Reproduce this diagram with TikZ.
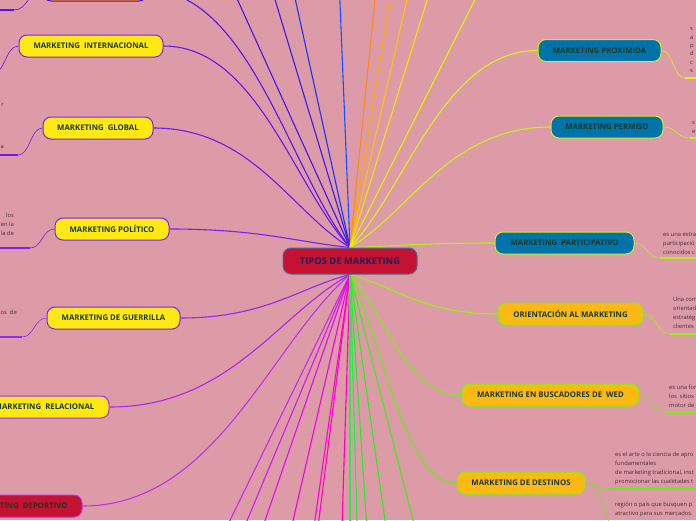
\documentclass[tikz,border=0pt]{standalone}
\usepackage{fontspec}
\setmainfont{Open Sans}
\usetikzlibrary{calc,positioning}
\definecolor{paperPink}{RGB}{221,155,167}
\definecolor{topicText}{RGB}{22,58,40}
\definecolor{noteText}{RGB}{70,45,50}
\definecolor{centreText}{RGB}{30,30,85}
\definecolor{centreFill}{RGB}{196,18,50}
\definecolor{centreEdge}{RGB}{70,110,150}
\definecolor{mapYellow}{RGB}{255,232,20}
\definecolor{mapBlue}{RGB}{0,115,170}
\definecolor{mapOrange}{RGB}{252,185,20}
\definecolor{mapAmber}{RGB}{255,140,0}
\definecolor{edgeViolet}{RGB}{125,35,235}
\definecolor{edgeLime}{RGB}{205,240,30}
\definecolor{edgeGreen}{RGB}{125,240,20}
% branch colours, left to right round the map
\definecolor{lnDeportivo}{RGB}{190,50,240}
\definecolor{lnRelacional}{RGB}{170,40,240}
\definecolor{lnGuerrilla}{RGB}{150,40,240}
\definecolor{lnPolitico}{RGB}{130,30,240}
\definecolor{lnGlobal}{RGB}{115,25,240}
\definecolor{lnInter}{RGB}{105,20,240}
\definecolor{lnUpper}{RGB}{90,20,235}
\definecolor{lnBlueA}{RGB}{70,20,235}
\definecolor{lnBlueB}{RGB}{50,30,235}
\definecolor{lnBlueC}{RGB}{30,50,245}
\definecolor{lnBlueD}{RGB}{20,80,255}
\definecolor{lnOrangeA}{RGB}{255,140,20}
\definecolor{lnOrangeB}{RGB}{255,170,0}
\definecolor{lnOrangeC}{RGB}{255,195,0}
\definecolor{lnYellowA}{RGB}{255,225,0}
\definecolor{lnYellowB}{RGB}{240,240,0}
\definecolor{lnProximida}{RGB}{225,240,20}
\definecolor{lnPermiso}{RGB}{205,240,20}
\definecolor{lnParticip}{RGB}{180,240,20}
\definecolor{lnOrient}{RGB}{150,240,20}
\definecolor{lnBuscador}{RGB}{120,240,20}
\definecolor{lnDestinos}{RGB}{100,240,20}
\definecolor{lnGreenA}{RGB}{60,240,20}
\definecolor{lnGreenB}{RGB}{40,240,30}
\definecolor{lnGreenC}{RGB}{30,240,45}
\definecolor{lnGreenD}{RGB}{30,240,60}
\definecolor{lnGreenE}{RGB}{40,235,80}
\definecolor{lnPinkA}{RGB}{255,0,180}
\definecolor{lnPinkB}{RGB}{255,0,200}
\definecolor{lnPinkC}{RGB}{255,0,215}
\definecolor{lnPinkD}{RGB}{240,0,230}
\definecolor{lnPinkE}{RGB}{225,10,240}
\definecolor{lnPinkF}{RGB}{210,25,240}
\definecolor{lnPinkG}{RGB}{200,40,240}
\pgfdeclarelayer{paper}
\pgfdeclarelayer{links}
\pgfsetlayers{paper,links,main}
\tikzset{
  topic/.style={rounded corners=8pt, line width=1pt, minimum height=22pt, inner sep=2pt,
                font=\fontsize{7.8}{9}\selectfont\bfseries, text=topicText},
  yellowtopic/.style={topic, draw=edgeViolet, fill=mapYellow},
  bluetopic/.style={topic, draw=edgeLime, fill=mapBlue},
  orangetopic/.style={topic, draw=edgeGreen, fill=mapOrange},
  redtopic/.style={topic, draw=lnDeportivo, fill=centreFill},
  branch/.style={line width=1.1pt},
  twig/.style={line width=0.6pt},
  underline/.style={line width=1.8pt},
  note/.style={font=\fontsize{5.8}{9}\selectfont, text=noteText, inner sep=0pt}
}
\newcommand{\branch}[3]{%
  \draw[branch,#1] (#2) .. controls ($(#2)!0.3!(#3)$) and ($(#3)!0.5!(#2|-#3)$) .. (#3);}
\newcommand{\farbranch}[3]{\draw[branch,#1] (#2) -- (#3);}
\newcommand{\twig}[3]{%
  \draw[twig,#1] (#2) .. controls ($(#2)!0.5!(#3|-#2)$) and ($(#3)!0.5!(#2|-#3)$) .. (#3);}
\begin{document}
\begin{tikzpicture}[x=1pt, y=-1pt]
\begin{pgfonlayer}{paper}
\fill[paperPink] (0,0) rectangle (696,520);
\end{pgfonlayer}
\useasboundingbox (0,0) rectangle (696,520);

% centre
\node[redtopic, draw=centreEdge, text=centreText, minimum width=134pt, minimum height=26pt,
      font=\fontsize{9.4}{10}\selectfont\bfseries] (ctr) at (350,261) {TIPOS DE MARKETING};

% left topics
\node[topic, draw=lnBlueA, fill=mapAmber, minimum width=104pt] (upper) at (95,-10) {};
\node[yellowtopic, minimum width=144pt] (inter) at (91,46) {MARKETING\ \ INTERNACIONAL};
\node[yellowtopic, minimum width=110pt] (global) at (98,128) {MARKETING\ \ GLOBAL};
\node[yellowtopic, minimum width=114pt] (politico) at (112,229) {MARKETING POLÍTICO};
\node[yellowtopic, minimum width=133pt] (guerrilla) at (113.5,318) {MARKETING DE GUERRILLA};
\node[yellowtopic, draw=lnRelacional, minimum width=129pt] (relacional) at (44.5,407) {MARKETING\ \ RELACIONAL};
\node[redtopic, minimum width=124pt] (deportivo) at (20,506) {MARKETING\ \ DEPORTIVO};

% right topics
\node[bluetopic, minimum width=123pt] (proximida) at (599.5,50.5) {MARKETING PROXIMIDA};
\node[bluetopic, minimum width=112pt] (permiso) at (607,127) {MARKETING PERMISO};
\node[bluetopic, minimum width=139pt] (particip) at (564.5,243) {MARKETING\ \ PARTICIPATIVO};
\node[orangetopic, minimum width=145pt] (orient) at (570.5,314) {ORIENTACIÓN AL MARKETING};
\node[orangetopic, minimum width=177pt] (buscador) at (550.5,395) {MARKETING EN BUSCADORES DE\ \ WED};
\node[orangetopic, minimum width=128pt] (destinos) at (521,483) {MARKETING DE DESTINOS};

% ends of branches running off the page
\coordinate (farA) at (209,-63);
\coordinate (farB) at (254,-70);
\coordinate (farC) at (280,-70);
\coordinate (farD) at (337,-70);
\coordinate (farE) at (382,-70);
\coordinate (farF) at (401,-70);
\coordinate (farG) at (423,-70);
\coordinate (farH) at (449,-70);
\coordinate (farI) at (510,-70);
\coordinate (lowA) at (196,590);
\coordinate (lowB) at (218,590);
\coordinate (lowC) at (241,590);
\coordinate (lowD) at (277,590);
\coordinate (lowE) at (305,590);
\coordinate (lowF) at (310,590);
\coordinate (lowG) at (340,590);
\coordinate (lowH) at (350,590);
\coordinate (lowI) at (359,590);
\coordinate (lowJ) at (371,590);
\coordinate (lowK) at (395,590);
\coordinate (lowL) at (431,590);

% underline ends of the notes
\coordinate (uUpper) at (14,10);
\coordinate (uInter) at (-8,74);
\coordinate (uGlobal) at (18,155);
\coordinate (uPolitico) at (30,248);
\coordinate (uGuerrilla) at (22,337);
\coordinate (uProximida) at (685,78);
\coordinate (uPermiso) at (690,138);
\coordinate (uParticip) at (660,258);
\coordinate (uOrient) at (670,334);
\coordinate (uBuscador) at (665,412);
\coordinate (uDestA) at (610,489);
\coordinate (uDestB) at (625,540);

\begin{pgfonlayer}{links}
\branch{lnUpper}{ctr.north}{upper.east}
\branch{lnInter}{ctr.north}{inter.east}
\branch{lnGlobal}{ctr.north}{global.east}
\branch{lnPolitico}{ctr.north}{politico.east}
\branch{lnGuerrilla}{ctr.south}{guerrilla.east}
\branch{lnRelacional}{ctr.south}{relacional.east}
\branch{lnDeportivo}{ctr.south}{deportivo.east}
\branch{lnProximida}{ctr.north}{proximida.west}
\branch{lnPermiso}{ctr.north}{permiso.west}
\branch{lnParticip}{ctr.north}{particip.west}
\branch{lnOrient}{ctr.south}{orient.west}
\branch{lnBuscador}{ctr.south}{buscador.west}
\branch{lnDestinos}{ctr.south}{destinos.west}
\farbranch{lnBlueA}{ctr.north}{farA}
\farbranch{lnBlueB}{ctr.north}{farB}
\farbranch{lnBlueC}{ctr.north}{farC}
\farbranch{lnBlueD}{ctr.north}{farD}
\farbranch{lnOrangeA}{ctr.north}{farE}
\farbranch{lnOrangeB}{ctr.north}{farF}
\farbranch{lnOrangeC}{ctr.north}{farG}
\farbranch{lnYellowA}{ctr.north}{farH}
\farbranch{lnYellowB}{ctr.north}{farI}
\farbranch{lnPinkG}{ctr.south}{lowA}
\farbranch{lnPinkF}{ctr.south}{lowB}
\farbranch{lnPinkE}{ctr.south}{lowC}
\farbranch{lnPinkD}{ctr.south}{lowD}
\farbranch{lnPinkC}{ctr.south}{lowE}
\farbranch{lnPinkB}{ctr.south}{lowF}
\farbranch{lnPinkA}{ctr.south}{lowG}
\farbranch{lnGreenE}{ctr.south}{lowH}
\farbranch{lnGreenD}{ctr.south}{lowI}
\farbranch{lnGreenC}{ctr.south}{lowJ}
\farbranch{lnGreenB}{ctr.south}{lowK}
\farbranch{lnGreenA}{ctr.south}{lowL}
% twigs to the notes
\twig{lnUpper}{upper.west}{uUpper}
\twig{lnInter}{inter.west}{uInter}
\twig{lnGlobal}{global.west}{uGlobal}
\twig{lnPolitico}{politico.west}{uPolitico}
\twig{lnGuerrilla}{guerrilla.west}{uGuerrilla}
\twig{lnProximida}{proximida.east}{uProximida}
\twig{lnPermiso}{permiso.east}{uPermiso}
\twig{lnParticip}{particip.east}{uParticip}
\twig{lnOrient}{orient.east}{uOrient}
\twig{lnBuscador}{buscador.east}{uBuscador}
\twig{lnDestinos}{destinos.east}{uDestA}
\twig{lnDestinos}{destinos.east}{uDestB}
\draw[underline, lnUpper] (uUpper) -- ++(-40,0);
\draw[underline, lnInter] (uInter) -- ++(-40,0);
\draw[underline, lnGlobal] (uGlobal) -- ++(-40,0);
\draw[underline, lnPolitico] (uPolitico) -- ++(-40,0);
\draw[underline, lnGuerrilla] (uGuerrilla) -- ++(-40,0);
\draw[underline, lnProximida] (uProximida) -- ++(40,0);
\draw[underline, lnPermiso] (uPermiso) -- ++(40,0);
\draw[underline, lnParticip] (uParticip) -- ++(60,0);
\draw[underline, lnOrient] (uOrient) -- ++(60,0);
\draw[underline, lnBuscador] (uBuscador) -- ++(60,0);
\draw[underline, lnDestinos] (uDestA) -- ++(100,0);
\draw[underline, lnDestinos] (uDestB) -- ++(100,0);
\end{pgfonlayer}

% notes, cut by the page edge
\node[note, anchor=east] (nGlobalA) at (4,105) {r};
\node[note, anchor=east] (nGlobalB) at (4,147) {a};
\node[note, anchor=south east, align=right] (nPolitico) at (14,236) {los\\en la\\la de};
\node[note, anchor=east] (nGuerrilla) at (17,312) {os\ \ de};
\node[note, anchor=south west, align=left, font=\fontsize{5.8}{8.4}\selectfont] (nProximida) at (690,73) {s\\a\\p\\d\\c\\s};
\node[note, anchor=south west, align=left] (nPermiso) at (692,134) {s\\e};
\node[note, anchor=south west, align=left] (nParticip) at (663,255) {es una estra\\participació\\conocidos c};
\node[note, anchor=south west, align=left] (nOrient) at (673,329) {Una com\\orientad\\estratég\\clientes};
\node[note, anchor=south west, align=left] (nBuscador) at (669,408) {es una for\\los\ \ sitios\\motor de};
\node[note, anchor=south west, align=left] (nDestA) at (615,485) {es el arte o la ciencia de apro\\fundamentales\\de marketing tradicional, inst\\promocionar las cualidades t};
\node[note, anchor=north west, align=left] (nDestB) at (615,502) {región o país que busquen p\\atractivo para sus mercados.};
\end{tikzpicture}
\end{document}
